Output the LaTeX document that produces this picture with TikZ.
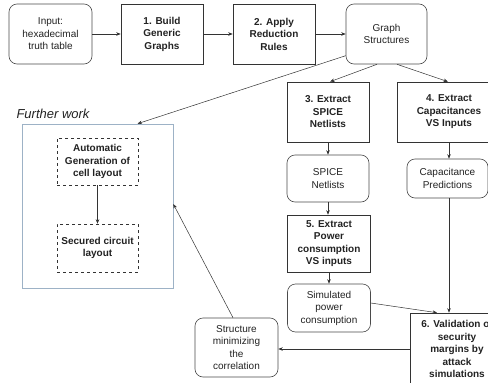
\documentclass[tikz,border=0pt]{standalone}
\usepackage{fontspec}
\setmainfont{Liberation Sans}
\usetikzlibrary{arrows.meta}
\definecolor{boxline}{HTML}{333333}
\definecolor{roundline}{HTML}{4A4A4A}
\definecolor{workline}{HTML}{9DB2C6}
\definecolor{inktext}{HTML}{222222}

\begin{document}
\begin{tikzpicture}[x=1pt,y=-1pt,
    font=\fontsize{10}{12.5}\selectfont, text=inktext,
    stepbox/.style={draw=boxline, line width=0.6pt, align=center, inner sep=2pt, font=\fontsize{10}{12.5}\selectfont\bfseries},
    roundbox/.style={draw=roundline, line width=0.6pt, rounded corners=8pt, align=center, inner sep=2pt},
    dashbox/.style={draw=boxline, line width=0.6pt, dashed, align=center, inner sep=2pt, font=\fontsize{10}{12.5}\selectfont\bfseries},
    arr/.style={draw=boxline, line width=0.5pt, -{Stealth[length=4.5pt,width=3.5pt]}}]
    \useasboundingbox (0,0) rectangle (488,383);
    % top row
    \node[roundbox, minimum width=83pt, minimum height=60pt] (input) at (50.5,34) {Input:\\hexadecimal\\truth table};
    \node[stepbox, minimum width=82pt, minimum height=60pt] (build) at (162,34) {1. Build\\Generic\\Graphs};
    \node[stepbox, minimum width=82pt, minimum height=60pt] (apply) at (274,34) {2. Apply\\Reduction\\Rules};
    \node[roundbox, minimum width=81pt, minimum height=60pt] (graph) at (386.5,34) {Graph\\Structures};
    % SPICE column
    \node[stepbox, minimum width=82pt, minimum height=60pt] (spice) at (328,112) {3. Extract\\SPICE\\Netlists};
    \node[roundbox, minimum width=82pt, minimum height=47pt] (netl) at (328,178.5) {SPICE\\Netlists};
    \node[stepbox, minimum width=83pt, minimum height=57pt] (power) at (329,243.5) {5. Extract\\Power\\consumption\\VS inputs};
    \node[roundbox, minimum width=83pt, minimum height=48pt] (sim) at (329,308) {Simulated\\power\\consumption};
    % capacitance column
    \node[stepbox, minimum width=104pt, minimum height=60pt] (capx) at (449,112) {4. Extract\\Capacitances\\VS Inputs};
    \node[roundbox, minimum width=81pt, minimum height=39pt] (cappred) at (447.5,178.5) {Capacitance\\Predictions};
    \node[stepbox, minimum width=94pt, minimum height=72pt] (valid) at (457,349) {6. Validation of\\security\\margins by\\attack\\simulations};
    \node[roundbox, minimum width=83pt, minimum height=59pt] (struct) at (236.5,347.5) {Structure\\minimizing\\the\\correlation};
    % further work
    \node[draw=workline, line width=0.6pt, minimum width=151pt, minimum height=164pt] (further) at (97.5,206) {};
    \node[font=\fontsize{13}{15}\selectfont\itshape, text=inktext] (fwlabel) at (53,114) {Further work};
    \node[dashbox, minimum width=81pt, minimum height=47pt] (auto) at (97.5,161.5) {Automatic\\Generation of\\cell layout};
    \node[dashbox, minimum width=81pt, minimum height=48pt] (secured) at (97.5,248) {Secured circuit\\layout};
    % connectors
    \draw[arr] (input) -- (build);
    \draw[arr] (build) -- (apply);
    \draw[arr] (apply) -- (graph);
    \draw[arr] ([xshift=-9.5pt]graph.south) -- ([xshift=2pt]spice.north);
    \draw[arr] ([xshift=10.5pt]graph.south) -- ([xshift=-1pt]capx.north);
    \draw[arr] (graph.208) -- ([xshift=40pt]further.north);
    \draw[arr] (spice) -- (netl);
    \draw[arr] (netl.south) -- (netl.south |- power.north);
    \draw[arr] (power) -- (sim);
    \draw[arr] (capx.south) -- (capx.south |- cappred.north);
    \draw[arr] (capx.south |- cappred.south) -- (capx.south |- valid.north);
    \draw[arr] ([yshift=5pt]sim.east) -- ([xshift=-20pt]valid.north);
    \draw[arr] (valid.west) -- (valid.west -| struct.east);
    \draw[arr] ([xshift=-3.5pt]struct.north) -- ([yshift=2pt]further.east);
    \draw[arr] (auto) -- (secured);
\end{tikzpicture}
\end{document}
